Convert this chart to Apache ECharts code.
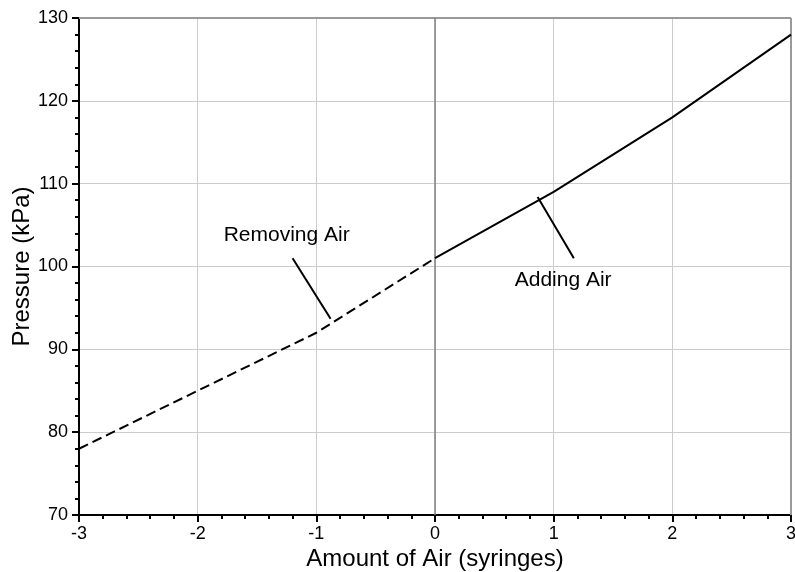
<!DOCTYPE html>
<html>
<head>
<meta charset="utf-8">
<script src="https://cdn.jsdelivr.net/npm/echarts@6/dist/echarts.min.js"></script>
<style>
  html, body { margin: 0; padding: 0; background: #fff; }
  #chart { width: 795px; height: 572px; }
</style>
</head>
<body>
<div id="chart"></div>
<script>
// Pressure in the syringe as air is added or removed
const addingX = [0, 1, 2, 3];
const addingP = [101, 109, 118, 128];
const removingX = [-3, -2, -1, 0];
const removingP = [78, 85, 92, 101];

// Callout text and leader lines, in data units
const calloutText = ['Removing Air', 'Adding Air'];
const calloutTextPos = [[-1.25, 103.8], [1.08, 98.3]];
const calloutLines = [
  [[-1.20, 101.0], [-0.88, 93.7]],
  [[0.865, 108.4], [1.17, 101.0]]
];

const xTicks = [-3, -2, -1, 0, 1, 2, 3];
const yTicks = [70, 80, 90, 100, 110, 120, 130];

const FONT = '"Liberation Sans", Arial, sans-serif';

const chart = echarts.init(document.getElementById('chart'), null, { renderer: 'canvas' });

const pairs = (xs, ys) => xs.map((x, i) => [x, ys[i]]);

chart.setOption({
  animation: false,
  backgroundColor: '#ffffff',
  grid: { left: 79, right: 4, top: 18, bottom: 57, show: false, containLabel: false, outerBoundsMode: 'none' },
  xAxis: {
    type: 'value',
    min: xTicks[0], max: xTicks[xTicks.length - 1], interval: 1,
    name: 'Amount of Air (syringes)',
    nameLocation: 'middle',
    nameGap: 32,
    nameMoveOverlap: false,
    nameTextStyle: { fontFamily: FONT, fontSize: 24, color: '#000' },
    axisLine: { show: true, onZero: false, lineStyle: { color: '#000', width: 2 } },
    axisTick: { show: true, inside: false, length: 7, lineStyle: { color: '#000', width: 2 } },
    minorTick: { show: true, splitNumber: 5, length: 4, lineStyle: { color: '#000', width: 2 } },
    splitLine: { show: true, lineStyle: { color: '#cccccc', width: 1 } },
    axisLabel: { fontFamily: FONT, fontSize: 18, color: '#000', margin: 10, hideOverlap: false }
  },
  yAxis: {
    type: 'value',
    min: yTicks[0], max: yTicks[yTicks.length - 1], interval: 10,
    name: 'Pressure (kPa)',
    nameLocation: 'middle',
    nameGap: 45,
    nameMoveOverlap: false,
    nameTextStyle: { fontFamily: FONT, fontSize: 24, color: '#000' },
    axisLine: { show: true, onZero: false, lineStyle: { color: '#000', width: 2 } },
    axisTick: { show: true, inside: false, length: 7, lineStyle: { color: '#000', width: 2 } },
    minorTick: { show: true, splitNumber: 5, length: 4, lineStyle: { color: '#000', width: 2 } },
    splitLine: { show: true, lineStyle: { color: '#cccccc', width: 1 } },
    axisLabel: { fontFamily: FONT, fontSize: 18, color: '#000', margin: 11, hideOverlap: false }
  },
  series: [
    {
      // frame: top and right borders plus the zero line
      type: 'line',
      data: [],
      silent: true,
      markLine: {
        silent: true,
        symbol: 'none',
        label: { show: false },
        data: [
          [{ coord: [xTicks[0], yTicks[yTicks.length - 1]], lineStyle: { color: '#999', width: 2, type: 'solid' } },
           { coord: [xTicks[xTicks.length - 1], yTicks[yTicks.length - 1]] }],
          [{ coord: [xTicks[xTicks.length - 1], yTicks[0]], lineStyle: { color: '#999', width: 2, type: 'solid' } },
           { coord: [xTicks[xTicks.length - 1], yTicks[yTicks.length - 1]] }],
          [{ coord: [0, yTicks[0]], lineStyle: { color: '#808080', width: 1.5, type: 'solid' } },
           { coord: [0, yTicks[yTicks.length - 1]] }]
        ]
      }
    },
    {
      name: 'Removing Air',
      type: 'line',
      data: pairs(removingX, removingP),
      showSymbol: false,
      symbol: 'none',
      lineStyle: { color: '#000', width: 2, type: [10, 5] },
      z: 5
    },
    {
      name: 'Adding Air',
      type: 'line',
      data: pairs(addingX, addingP),
      showSymbol: false,
      symbol: 'none',
      lineStyle: { color: '#000', width: 2, type: 'solid' },
      z: 5
    },
    {
      // callouts
      type: 'scatter',
      symbolSize: 0,
      silent: true,
      itemStyle: { opacity: 1 },
      data: calloutTextPos.map((p, i) => ({ value: p, name: calloutText[i] })),
      label: {
        show: true,
        position: 'inside',
        formatter: p => p.name,
        fontFamily: FONT, fontSize: 21, color: '#000', opacity: 1
      },
      markLine: {
        silent: true,
        symbol: 'none',
        label: { show: false },
        lineStyle: { color: '#000', width: 2, type: 'solid' },
        data: calloutLines.map(seg => [{ coord: seg[0] }, { coord: seg[1] }])
      },
      z: 6
    }
  ]
});
</script>
</body>
</html>
